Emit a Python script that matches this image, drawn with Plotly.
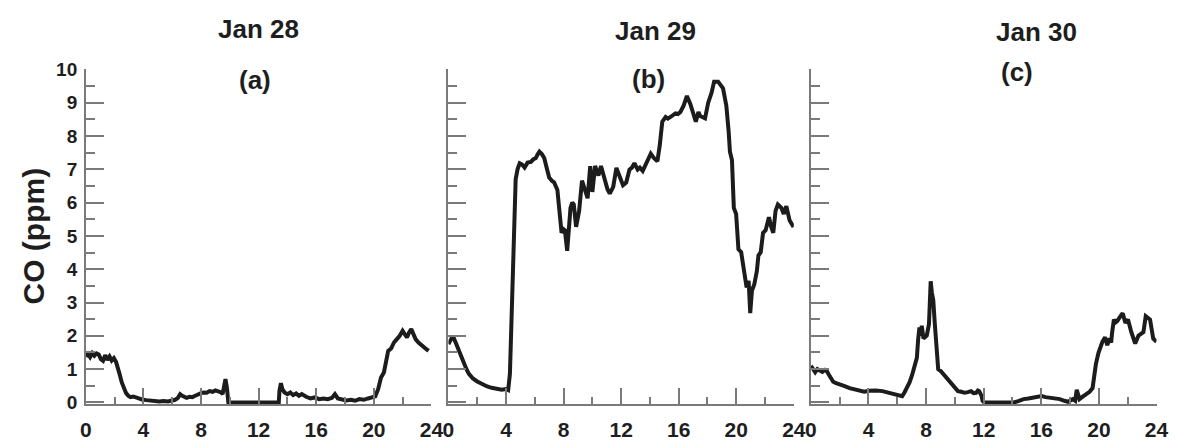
import plotly.graph_objects as go

# ---------------- data ----------------
hours_jan28 = [0, 0.15, 0.3, 0.45, 0.6, 0.75, 0.9, 1.05, 1.2, 1.35, 1.5, 1.65, 1.8, 1.95, 2.1, 2.2,
               2.35, 2.5, 2.65, 2.8, 2.95, 3.1, 3.3, 3.5, 3.7, 3.9, 4.2, 4.5, 4.8, 5.1, 5.4, 5.7,
               6.0, 6.2, 6.4, 6.55, 6.7, 6.85, 7.0, 7.2, 7.4, 7.6, 7.8, 8.0, 8.2, 8.4, 8.6, 8.8,
               9.0, 9.2, 9.4, 9.5, 9.6, 9.7, 9.8, 9.85, 9.9, 10.5, 11, 12, 13, 13.4, 13.45, 13.55,
               13.65, 13.8, 14.0, 14.2, 14.4, 14.6, 14.8, 15.0, 15.3, 15.6, 15.9, 16.2, 16.5, 16.8,
               17.1, 17.3, 17.5, 17.8, 18.1, 18.4, 18.7, 19.0, 19.3, 19.6, 19.9, 20.1, 20.3, 20.5,
               20.7, 20.9, 21.0, 21.2, 21.4, 21.6, 21.8, 22.0, 22.15, 22.3, 22.45, 22.6, 22.75, 22.9,
               23.1, 23.3, 23.5, 23.65, 23.8]
co_jan28 = [1.38, 1.45, 1.36, 1.48, 1.4, 1.47, 1.44, 1.3, 1.25, 1.42, 1.28, 1.38, 1.26, 1.33, 1.22, 1.1,
            0.85, 0.6, 0.42, 0.28, 0.2, 0.16, 0.18, 0.14, 0.12, 0.09, 0.07, 0.05, 0.04, 0.03, 0.04, 0.03,
            0.06, 0.08, 0.14, 0.25, 0.2, 0.16, 0.14, 0.17, 0.16, 0.2, 0.25, 0.28, 0.3, 0.29, 0.34, 0.32,
            0.36, 0.33, 0.3, 0.25, 0.55, 0.7, 0.45, 0.2, 0, 0, 0, 0, 0, 0, 0.35, 0.58,
            0.4, 0.3, 0.25, 0.3, 0.22, 0.27, 0.2, 0.25, 0.17, 0.12, 0.15, 0.1, 0.12, 0.1,
            0.14, 0.25, 0.12, 0.1, 0.06, 0.08, 0.05, 0.1, 0.08, 0.12, 0.14, 0.18, 0.4, 0.75,
            0.9, 1.3, 1.55, 1.62, 1.8, 1.9, 2.0, 2.15, 2.05, 1.95, 2.1, 2.2, 2.05, 1.9,
            1.8, 1.74, 1.68, 1.6, 1.55]

hours_jan29 = [0, 0.15, 0.3, 0.5, 0.73, 0.9, 1.07, 1.25, 1.42, 1.7, 2.0, 2.3, 2.69, 3.0, 3.37, 3.7,
               4.0, 4.15, 4.27, 4.35, 4.42, 4.54, 4.67, 4.8, 4.95, 5.1, 5.29, 5.5, 5.73, 5.9, 6.06,
               6.2, 6.32, 6.5, 6.66, 6.85, 7.0, 7.2, 7.34, 7.57, 7.69, 7.86, 8.0, 8.09, 8.25, 8.48,
               8.6, 8.71, 8.87, 9.08, 9.28, 9.49, 9.67, 9.85, 10.0, 10.19, 10.42, 10.6, 10.87, 11.05,
               11.21, 11.45, 11.67, 11.85, 12.13, 12.35, 12.58, 12.75, 12.92, 13.15, 13.3, 13.5,
               13.84, 14.06, 14.29, 14.52, 14.68, 14.86, 15.09, 15.25, 15.43, 15.6, 15.77, 15.95,
               16.12, 16.34, 16.57, 16.8, 17.03, 17.19, 17.37, 17.5, 17.64, 17.83, 18.05, 18.28,
               18.46, 18.6, 18.74, 19.08, 19.31, 19.47, 19.56, 19.7, 19.83, 19.99, 20.15, 20.34,
               20.56, 20.72, 20.86, 20.97, 21.09, 21.25, 21.43, 21.54, 21.7, 21.86, 22.04, 22.27,
               22.43, 22.57, 22.73, 22.89, 23.14, 23.3, 23.48, 23.71, 23.98]
co_jan29 = [1.75, 1.85, 2.0, 1.8, 1.53, 1.35, 1.15, 1.0, 0.86, 0.72, 0.63, 0.55, 0.48, 0.44, 0.40, 0.38,
            0.4, 0.37, 0.86, 2.0, 3.36, 5.46, 6.7, 7.0, 7.18, 7.15, 7.05, 7.2, 7.22, 7.3, 7.33,
            7.45, 7.53, 7.45, 7.33, 7.0, 6.75, 6.65, 6.61, 6.38, 5.75, 5.09, 5.2, 5.17, 4.55, 5.84,
            6.0, 5.94, 5.27, 5.75, 6.66, 6.42, 6.13, 7.09, 6.32, 7.1, 6.81, 7.1, 6.61, 6.4,
            6.27, 6.47, 7.04, 6.8, 6.52, 6.6, 6.99, 7.05, 7.18, 6.99, 7.05, 6.95,
            7.24, 7.47, 7.33, 7.24, 7.71, 8.43, 8.57, 8.52, 8.57, 8.62, 8.68, 8.66,
            8.72, 8.91, 9.2, 8.97, 8.62, 8.43, 8.72, 8.6, 8.57, 8.53, 9.0, 9.29,
            9.63, 9.62, 9.63, 9.43, 8.91, 8.14, 7.53, 7.28, 5.84, 5.66, 4.6, 4.51,
            3.94, 3.45, 3.65, 2.68, 3.36, 3.54, 3.94, 4.41, 4.51, 5.09, 5.17, 5.56,
            5.27, 5.09, 5.75, 5.94, 5.84, 5.66, 5.89, 5.46, 5.27]

hours_jan30 = [0, 0.15, 0.3, 0.45, 0.64, 0.8, 0.98, 1.1, 1.21, 1.4, 1.55, 1.75, 2.0, 2.3, 2.69, 3.0,
               3.37, 3.7, 4.05, 4.5, 4.97, 5.4, 5.88, 6.1, 6.34, 6.5, 6.68, 6.85, 7.02, 7.2, 7.36,
               7.45, 7.54, 7.62, 7.7, 7.82, 8.05, 8.2, 8.28, 8.32, 8.4, 8.5, 8.6, 8.68, 8.76, 8.84,
               9.0, 9.18, 9.35, 9.52, 9.7, 9.87, 10.05, 10.21, 10.45, 10.67, 10.9, 11.12, 11.3,
               11.47, 11.6, 11.69, 11.85, 11.92, 12.04, 13.18, 14.09, 14.4, 14.77, 15.1, 15.45,
               15.75, 16.03, 16.3, 16.6, 16.9, 17.28, 17.6, 17.85, 18.19, 18.35, 18.46, 18.55,
               18.65, 18.9, 19.1, 19.35, 19.56, 19.79, 19.97, 20.24, 20.43, 20.58, 20.75, 20.85,
               20.92, 21.04, 21.15, 21.27, 21.5, 21.65, 21.84, 22.02, 22.25, 22.52, 22.75, 23.09,
               23.25, 23.4, 23.55, 23.77, 24.0]
co_jan30 = [1.1, 0.98, 0.91, 1.0, 0.96, 0.92, 0.98, 0.95, 0.86, 0.72, 0.62, 0.58, 0.53, 0.5, 0.43, 0.4,
            0.35, 0.32, 0.35, 0.36, 0.34, 0.3, 0.26, 0.22, 0.19, 0.3, 0.43, 0.6, 0.81, 1.05, 1.34,
            1.9, 2.25, 2.0, 2.3, 1.92, 2.01, 2.35, 3.2, 3.64, 3.3, 3.07, 2.4, 1.82, 1.3, 1.0,
            0.95, 0.86, 0.78, 0.72, 0.62, 0.53, 0.42, 0.34, 0.32, 0.29, 0.31, 0.34, 0.28,
            0.29, 0.36, 0.34, 0.2, 0.05, 0, 0, 0, 0.04, 0.1, 0.12, 0.14,
            0.18, 0.19, 0.16, 0.14, 0.15, 0.1, 0.05, 0.02, 0.1, 0.05, 0.38, 0.2,
            0.1, 0.18, 0.24, 0.32, 0.43, 1.15, 1.49, 1.82, 1.96, 1.72, 1.92, 1.8,
            2.11, 2.49, 2.4, 2.44, 2.59, 2.68, 2.39, 2.49, 2.11, 1.77, 2.01, 2.11,
            2.59, 2.55, 2.49, 1.92, 1.82]

day_titles = ["Jan 28", "Jan 29", "Jan 30"]
panel_labels = ["(a)", "(b)", "(c)"]
x_tick_vals = [0, 4, 8, 12, 16, 20, 24]
y_title = "CO (ppm)"

series = [(hours_jan28, co_jan28), (hours_jan29, co_jan29), (hours_jan30, co_jan30)]
for h, c in series:
    if len(h) != len(c):
        raise ValueError(f"length mismatch {len(h)} vs {len(c)}")

# ---------------- layout ----------------
W, H = 1183, 444
FONT = "Liberation Sans, Arial, sans-serif"
AX = "#7a7a7a"
TXT = "#1e1e1e"

x_domains = [(81 / W, 432 / W), (449.3 / W, 800 / W), (817.3 / W, 1168.3 / W)]
y_lo = -0.06
y_domain = (1 - (62 + (10 - y_lo) * 34.8) / H, 1 - 62 / H)

fig = go.Figure()
for i, (h, c) in enumerate(series):
    sfx = "" if i == 0 else str(i + 1)
    fig.add_trace(go.Scatter(x=h, y=c, mode="lines",
                             line=dict(color="#1c1c1c", width=4),
                             xaxis="x" + sfx, yaxis="y" + sfx, showlegend=False,
                             hoverinfo="x+y"))
    fig.layout["xaxis" + sfx] = dict(
        domain=list(x_domains[i]), range=[0, 24], anchor="y" + sfx,
        tickmode="array", tickvals=x_tick_vals, ticktext=[str(v) for v in x_tick_vals],
        ticks="inside", ticklen=17, tickwidth=1.5, tickcolor=AX,
        minor=dict(dtick=2, tick0=0, ticks="inside", ticklen=8, tickwidth=1.5, tickcolor=AX),
        showline=True, linecolor=AX, linewidth=1.5, showgrid=False, zeroline=False,
        ticklabelstandoff=6,
        tickfont=dict(family=FONT, size=21, color=TXT, weight="bold"),
    )
    fig.layout["yaxis" + sfx] = dict(
        domain=list(y_domain), range=[y_lo, 10], anchor="x" + sfx,
        tickmode="linear", tick0=0, dtick=1,
        ticks="inside", ticklen=18, tickwidth=1.5, tickcolor=AX,
        minor=dict(dtick=0.5, tick0=0, ticks="inside", ticklen=9, tickwidth=1.5, tickcolor=AX),
        showline=True, linecolor=AX, linewidth=1.5, showgrid=False, zeroline=False,
        showticklabels=(i == 0), ticklabelstandoff=3,
        tickfont=dict(family=FONT, size=19, color=TXT, weight="bold"),
    )

annotations = []
title_pos = [(256, 20), (660, 22), (1046, 23)]
label_pos = [(253, 73), (652, 72), (1027, 65)]
for i in range(3):
    tx, ty = title_pos[i]
    annotations.append(dict(text=day_titles[i], x=tx / W, y=1 - ty / H, xref="paper", yref="paper",
                            xanchor="center", yanchor="middle", showarrow=False,
                            font=dict(family=FONT, size=26, color=TXT, weight="bold")))
    lx, ly = label_pos[i]
    annotations.append(dict(text=panel_labels[i], x=lx / W, y=1 - ly / H, xref="paper", yref="paper",
                            xanchor="center", yanchor="middle", showarrow=False,
                            font=dict(family=FONT, size=26, color=TXT, weight="bold")))
annotations.append(dict(text=y_title, x=28 / W, y=1 - 236 / H, xref="paper", yref="paper",
                        xanchor="center", yanchor="middle", showarrow=False, textangle=-90,
                        font=dict(family=FONT, size=30, color=TXT, weight="bold")))

fig.update_layout(
    width=W, height=H, margin=dict(l=0, r=0, t=0, b=0),
    paper_bgcolor="white", plot_bgcolor="white",
    annotations=annotations, showlegend=False,
)

fig.write_html("out.html")
